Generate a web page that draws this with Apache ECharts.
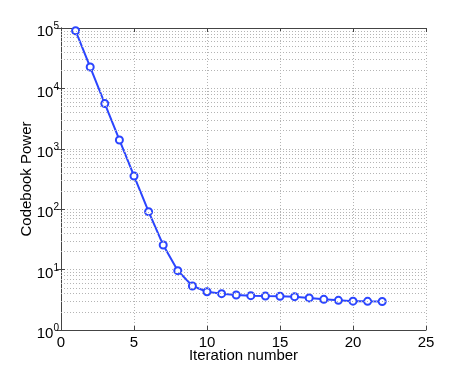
<!DOCTYPE html>
<html>
<head>
<meta charset="utf-8">
<script src="https://cdn.jsdelivr.net/npm/echarts@6/dist/echarts.min.js"></script>
<style>
html, body { margin: 0; padding: 0; background: #fff; }
#chart { width: 471px; height: 371px; }
</style>
</head>
<body>
<div id="chart"></div>
<script>
// iteration number and codebook power
const iterations = [1, 2, 3, 4, 5, 6, 7, 8, 9, 10, 11, 12, 13, 14, 15, 16, 17, 18, 19, 20, 21, 22];
const power = [90000, 22600, 5600, 1400, 355, 91, 25.5, 9.6, 5.35, 4.3, 4.0, 3.8, 3.7, 3.65, 3.62, 3.56, 3.4, 3.22, 3.1, 3.0, 2.98, 2.97];
const xTicks = [0, 5, 10, 15, 20, 25];
const minorLevels = [];
for (let d = 0; d < 5; d++) {
    for (let k = 2; k <= 9; k++) minorLevels.push(k * Math.pow(10, d));
}

const blue = "#2b45ff";
const font = "Liberation Sans, Arial, sans-serif";

const chart = echarts.init(document.getElementById("chart"));

const dotted = { color: "#b4b4b4", width: 1, type: [1, 2] };

chart.setOption({
    animation: false,
    textStyle: { fontFamily: font },
    grid: { left: 61, right: 45, top: 28, bottom: 41, containLabel: false },
    xAxis: [
        {
            type: "value",
            min: xTicks[0],
            max: xTicks[xTicks.length - 1],
            interval: 5,
            name: "Iteration number",
            nameLocation: "middle",
            nameGap: 18,
            nameMoveOverlap: false,
            nameTextStyle: { fontSize: 15, color: "#000", verticalAlign: "top" },
            axisLine: { onZero: false, lineStyle: { color: "#444", width: 1 } },
            axisTick: { inside: true, length: 4, lineStyle: { color: "#444" } },
            axisLabel: { fontSize: 15, color: "#000", margin: 5 },
            splitLine: { show: true, lineStyle: dotted },
        },
        {
            type: "value",
            position: "top",
            min: xTicks[0],
            max: xTicks[xTicks.length - 1],
            interval: 5,
            axisLine: { lineStyle: { color: "#444", width: 1 } },
            axisTick: { inside: true, length: 4, lineStyle: { color: "#444" } },
            axisLabel: { show: false },
            splitLine: { show: false },
        },
    ],
    yAxis: [
        {
            type: "log",
            logBase: 10,
            min: 1,
            max: 100000,
            name: "Codebook Power",
            nameLocation: "middle",
            nameGap: 27,
            nameMoveOverlap: false,
            nameTextStyle: { fontSize: 15, color: "#000" },
            axisLine: { lineStyle: { color: "#444", width: 1 } },
            axisTick: { inside: true, length: 4, lineStyle: { color: "#444" } },
            axisLabel: {
                margin: 2,
                padding: [8, 0, 0, 0],
                formatter: (v) => "{b|10}{s|" + Math.round(Math.log10(v)) + "}",
                rich: {
                    b: { fontSize: 15, color: "#000", fontFamily: font },
                    s: { fontSize: 10, color: "#000", fontFamily: font, verticalAlign: "top", padding: [0, 0, 11, 0] },
                },
            },
            splitLine: { show: true, lineStyle: dotted },
        },
        {
            type: "log",
            logBase: 10,
            min: 1,
            max: 100000,
            position: "right",
            axisLine: { lineStyle: { color: "#444", width: 1 } },
            axisTick: { inside: true, length: 4, lineStyle: { color: "#444" } },
            axisLabel: { show: false },
            splitLine: { show: false },
        },
    ],
    series: [
        {
            type: "line",
            data: [],
            silent: true,
            markLine: {
                silent: true,
                symbol: "none",
                label: { show: false },
                lineStyle: dotted,
                data: minorLevels.map((v) => ({ yAxis: v })),
            },
        },
        {
            name: "Codebook Power",
            type: "line",
            data: iterations.map((x, i) => [x, power[i]]),
            lineStyle: { color: blue, width: 2 },
            itemStyle: { color: "#fff", borderColor: blue, borderWidth: 2 },
            symbol: "circle",
            symbolSize: 7,
            showSymbol: true,
        },
    ],
});
</script>
</body>
</html>
